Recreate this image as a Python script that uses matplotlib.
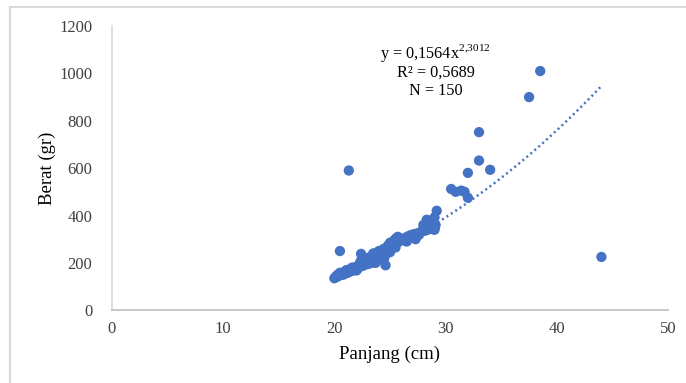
import numpy as np
import matplotlib.pyplot as plt
from matplotlib.patches import Rectangle

plt.rcParams['font.family'] = ['Liberation Serif', 'DejaVu Serif']
plt.rcParams['mathtext.fontset'] = 'custom'
plt.rcParams['mathtext.rm'] = 'Liberation Serif'

# panjang (cm) dan berat (gr)
panjang = [
    20.0, 20.1, 20.2, 20.3, 20.3, 20.4, 20.5, 20.5, 20.6, 20.7,
    20.8, 20.8, 20.9, 21.0, 21.0, 21.1, 21.1, 21.2, 21.3, 21.3,
    21.4, 21.5, 21.5, 21.6, 21.6, 21.7, 21.8, 21.8, 21.9, 22.0,
    22.0, 22.1, 22.1, 22.2, 22.3, 22.3, 22.4, 22.4, 22.5, 22.5,
    22.6, 22.6, 22.7, 22.8, 22.8, 22.9, 23.0, 23.0, 23.0, 23.1,
    23.2, 23.2, 23.3, 23.3, 23.4, 23.5, 23.5, 23.5, 23.6, 23.7,
    23.7, 23.8, 23.8, 23.9, 24.0, 24.0, 24.0, 24.1, 24.2, 24.2,
    24.3, 24.3, 24.4, 24.4, 24.5, 24.5, 24.6, 24.6, 24.6, 24.7,
    24.8, 24.8, 24.9, 25.0, 25.0, 25.0, 25.1, 25.1, 25.2, 25.3,
    25.3, 25.4, 25.5, 25.5, 25.6, 25.7, 25.8, 25.9, 26.0, 26.1,
    26.2, 26.4, 26.5, 26.6, 26.7, 26.9, 27.0, 27.2, 27.3, 27.5,
    27.6, 27.8, 28.0, 28.0, 28.1, 28.2, 28.3, 28.4, 28.5, 28.6,
    28.7, 28.8, 28.9, 29.0, 29.0, 29.0, 29.1, 29.2, 20.5, 21.3,
    30.5, 30.9, 31.4, 31.7, 32.0, 32.0, 33.0, 33.0, 34.0, 37.5,
    38.5, 44.0, 22.4, 23.3, 24.1, 25.4, 26.3, 27.3, 28.4, 29.0,
]
berat = [
    135, 140, 145, 142, 150, 148, 152, 158, 150, 155,
    160, 150, 158, 165, 155, 162, 170, 158, 170, 163,
    168, 175, 165, 172, 180, 168, 178, 170, 182, 175,
    168, 185, 178, 180, 190, 200, 195, 238, 198, 212,
    188, 205, 200, 208, 195, 198, 210, 195, 220, 215,
    205, 198, 222, 200, 212, 228, 205, 240, 230, 218,
    200, 242, 210, 228, 235, 215, 250, 245, 225, 238,
    252, 232, 240, 258, 255, 222, 245, 190, 262, 260,
    250, 272, 265, 270, 245, 285, 280, 258, 262, 292,
    270, 275, 302, 265, 285, 310, 290, 298, 295, 302,
    300, 305, 290, 312, 310, 318, 315, 322, 300, 325,
    318, 332, 342, 360, 335, 352, 382, 340, 348, 372,
    360, 355, 342, 340, 352, 392, 360, 420, 250, 590,
    512, 500, 505, 500, 475, 580, 752, 632, 593, 900,
    1010, 225, 210, 228, 238, 282, 296, 308, 362, 345,
]

# persamaan regresi power dari gambar
koef_a = 0.1564
koef_b = 2.3012
r2 = 0.5689

biru = '#4472C4'

fig = plt.figure(figsize=(6.86, 3.83), dpi=100)
ax = fig.add_axes([0.163, 0.19, 0.811, 0.742])

ax.scatter(panjang, berat, s=55, color=biru, edgecolors='none', zorder=3)

xs = np.linspace(min(panjang), max(panjang), 200)
ax.plot(xs, koef_a * xs ** koef_b, color=biru, lw=1.8,
        linestyle=(0, (0.8, 1.3)), zorder=2)

ax.set_xlim(0, 50)
ax.set_ylim(0, 1200)
ax.set_xticks(range(0, 51, 10))
ax.set_yticks(range(0, 1201, 200))
ax.tick_params(length=0, labelsize=12, colors='#404040')
ax.tick_params(axis='y', pad=14)
ax.tick_params(axis='x', pad=8)

for s in ['top', 'right']:
    ax.spines[s].set_visible(False)
ax.spines['left'].set_color('#d9d9d9')
ax.spines['bottom'].set_color('#bfbfbf')
ax.spines['left'].set_linewidth(1.2)
ax.spines['bottom'].set_linewidth(1.2)

ax.set_xlabel('Panjang (cm)', fontsize=13.5, labelpad=6)
ax.set_ylabel('Berat (gr)', fontsize=13.5, labelpad=2)

ax.text(29.1, 1086, r'y = 0,1564x$^{\mathregular{2{,}3012}}$', ha='center', va='center', fontsize=11.7)
ax.text(29.1, 1005, 'R² = 0,5689', ha='center', va='center', fontsize=11.7)
ax.text(29.1, 925, 'N = 150', ha='center', va='center', fontsize=11.7)

fig.patches.append(Rectangle((10 / 686, -0.1), 1.5, 1.1 - 7 / 383, transform=fig.transFigure,
                             fill=False, edgecolor='#d9d9d9', lw=1.5))

plt.savefig('out.png', dpi=100)
